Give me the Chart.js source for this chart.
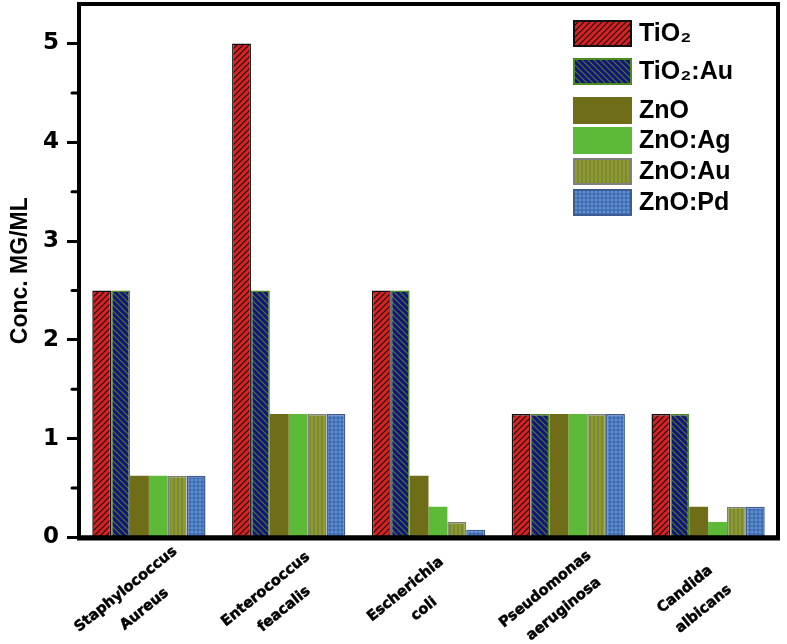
<!DOCTYPE html>
<html><head><meta charset="utf-8">
<script src="https://cdn.jsdelivr.net/npm/chart.js@4.4.1/dist/chart.umd.min.js"></script>
<style>html,body{margin:0;padding:0;background:#fff;} #wrap{width:787px;height:644px;}</style>
</head><body><div id="wrap"><canvas id="c" width="787" height="644"></canvas></div>
<script>
// ---- data ----
const categories = [['Staphylococcus','Aureus'],['Enterococcus','feacalis'],['Escherichia','coli'],['Pseudomonas','aeruginosa'],['Candida','albicans']];
const seriesNames = ['TiO₂','TiO₂:Au','ZnO','ZnO:Ag','ZnO:Au','ZnO:Pd'];
const tio2   = [2.5, 5, 2.5, 1.25, 1.25];
const tio2Au = [2.5, 2.5, 2.5, 1.25, 1.25];
const zno    = [0.625, 1.25, 0.625, 1.25, 0.3125];
const znoAg  = [0.625, 1.25, 0.3125, 1.25, 0.156];
const znoAu  = [0.625, 1.25, 0.156, 1.25, 0.3125];
const znoPd  = [0.625, 1.25, 0.078, 1.25, 0.3125];
const yTicks = [0, 1, 2, 3, 4, 5];
const yTitle = 'Conc. MG/ML';

// ---- patterns ----
const canvas = document.getElementById('c');
const mainCtx = canvas.getContext('2d');
function makePattern(bg, line, type, size, lw) {
  const c = document.createElement('canvas'); c.width = size; c.height = size;
  const x = c.getContext('2d');
  x.fillStyle = bg; x.fillRect(0, 0, size, size);
  x.strokeStyle = line; x.lineWidth = lw;
  x.beginPath();
  if (type === 'fwd') {
    x.moveTo(-1, size + 1); x.lineTo(size + 1, -1);
    x.moveTo(-size - 1, size + 1); x.lineTo(1, -1);
    x.moveTo(size - 1, size + 1); x.lineTo(2 * size + 1, -1);
  } else if (type === 'back') {
    x.moveTo(-1, -1); x.lineTo(size + 1, size + 1);
    x.moveTo(-size - 1, -1); x.lineTo(1, size + 1);
    x.moveTo(size - 1, -1); x.lineTo(2 * size + 1, size + 1);
  } else if (type === 'vert') {
    x.moveTo(size / 2, 0); x.lineTo(size / 2, size);
  } else if (type === 'grid') {
    x.moveTo(size / 2, 0); x.lineTo(size / 2, size);
    x.moveTo(0, size / 2); x.lineTo(size, size / 2);
  }
  x.stroke();
  return mainCtx.createPattern(c, 'repeat');
}
const pRed  = makePattern('#d62222', '#1a0808', 'fwd', 6, 1.2);
const pNavy = makePattern('#17137a', '#41852a', 'back', 6, 1.1);
const pAu   = makePattern('#8c9b2a', '#6f7648', 'vert', 4, 1);
const pPd   = makePattern('#5d92cf', '#3a5ea6', 'grid', 4, 1);

const datasets = [
  {label: seriesNames[0], data: tio2,   backgroundColor: pRed,  borderColor: '#111111', borderWidth: 1.5},
  {label: seriesNames[1], data: tio2Au, backgroundColor: pNavy, borderColor: '#4c8a22', borderWidth: 1.5},
  {label: seriesNames[2], data: zno,    backgroundColor: '#6f6d17', borderWidth: 0},
  {label: seriesNames[3], data: znoAg,  backgroundColor: '#5dba38', borderWidth: 0},
  {label: seriesNames[4], data: znoAu,  backgroundColor: pAu,   borderColor: '#7f7f7f', borderWidth: 1.5},
  {label: seriesNames[5], data: znoPd,  backgroundColor: pPd,   borderColor: '#3e5b96', borderWidth: 1.5}
];

// ---- plugins ----
const decor = {
  id: 'decor',
  afterDraw(chart) {
    const ctx = chart.ctx, ca = chart.chartArea;
    const ys = chart.scales.y, xs = chart.scales.x;
    ctx.save();
    // minor ticks
    ctx.strokeStyle = '#000'; ctx.lineWidth = 3; ctx.lineCap = 'round';
    yTicks.forEach(v => {
      const m = v + 0.5;
      if (m < ys.max) {
        const y = ys.getPixelForValue(m);
        ctx.beginPath(); ctx.moveTo(ca.left - 7, y); ctx.lineTo(ca.left - 2, y); ctx.stroke();
      }
    });
    // frame
    ctx.lineCap = 'butt'; ctx.lineWidth = 4;
    ctx.strokeRect(ca.left, ca.top, ca.right - ca.left, ca.bottom - ca.top);
    ctx.beginPath(); ctx.moveTo(ca.left - 2, ca.bottom + 0.5); ctx.lineTo(ca.right + 2, ca.bottom + 0.5);
    ctx.lineWidth = 5; ctx.stroke();
    // x labels
    ctx.fillStyle = '#000'; ctx.strokeStyle = '#000'; ctx.lineWidth = 0.5; ctx.lineJoin = 'round';
    ctx.font = 'bold 14.5px "DejaVu Sans"';
    ctx.textAlign = 'center'; ctx.textBaseline = 'middle';
    const ang = 39 * Math.PI / 180;
    categories.forEach((lines, i) => {
      const x = xs.getPixelForValue(i);
      ctx.save();
      ctx.translate(x - 23, ca.bottom + 52);
      ctx.rotate(-ang);
      lines.forEach((t, j) => { ctx.fillText(t, j * 2, j * 27); ctx.strokeText(t, j * 2, j * 27); });
      ctx.restore();
    });
    // legend
    const tops = [20, 58, 97, 127, 158, 189];
    ctx.font = 'bold 25px "Liberation Sans", "DejaVu Sans"';
    ctx.textAlign = 'left'; ctx.textBaseline = 'middle';
    chart.data.datasets.forEach((ds, i) => {
      const y = tops[i];
      ctx.fillStyle = ds.backgroundColor;
      ctx.fillRect(573, y, 59, 27);
      if (ds.borderWidth) {
        ctx.strokeStyle = ds.borderColor; ctx.lineWidth = 2;
        ctx.strokeRect(574, y + 1, 57, 25);
      }
      ctx.fillStyle = '#000';
      ctx.fillText(ds.label, 639, y + 14);
    });
    ctx.restore();
  }
};

new Chart(canvas, {
  type: 'bar',
  data: {labels: categories.map(c => c.join(' ')), datasets},
  options: {
    responsive: false, animation: false,
    layout: {padding: {left: 0, top: 4, right: 9, bottom: 0}},
    datasets: {bar: {categoryPercentage: 0.81, barPercentage: 1.0}},
    plugins: {legend: {display: false}, tooltip: {enabled: false}},
    scales: {
      x: {
        grid: {display: false}, border: {display: false}, ticks: {display: false},
        afterFit(s) { s.height = 106.5; s.paddingLeft = 0; s.paddingRight = 0; }
      },
      y: {
        min: 0, max: 5.4,
        afterBuildTicks(s) { s.ticks = yTicks.map(v => ({value: v})); },
        ticks: {font: {family: 'DejaVu Sans', weight: 'bold', size: 23}, color: '#000', padding: 8},
        grid: {display: true, drawOnChartArea: false, drawTicks: true, tickLength: 12, tickWidth: 3, tickColor: '#000'},
        border: {display: false},
        title: {display: true, text: yTitle, color: '#000', font: {family: 'Liberation Sans', weight: 'bold', size: 23}, padding: {top: 7, bottom: 0}},
        afterFit(s) { s.width = 79; s.paddingTop = 0; s.paddingBottom = 0; }
      }
    }
  },
  plugins: [decor]
});
</script></body></html>
